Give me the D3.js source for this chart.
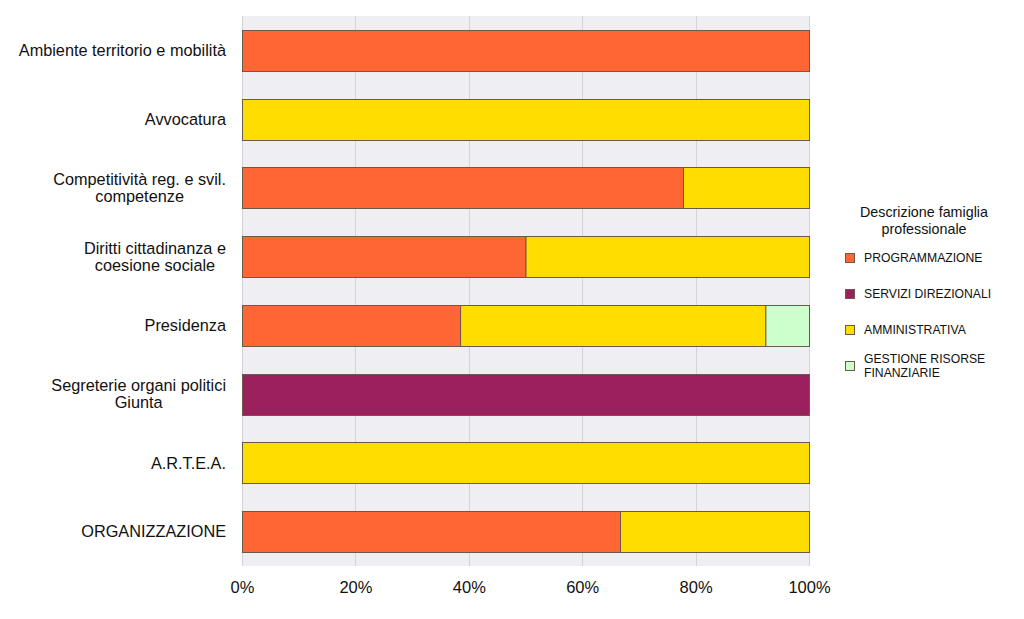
<!DOCTYPE html>
<html><head><meta charset="utf-8">
<script src="https://cdn.jsdelivr.net/npm/d3@7"></script>
<style>body{margin:0;background:#fff;} svg{display:block;font-family:"Liberation Sans",Arial,sans-serif;}</style>
</head><body>
<svg id="c" width="1024" height="619"></svg>
<script>
const categories = [
  ["Ambiente territorio e mobilità"],
  ["Avvocatura"],
  ["Competitività reg. e svil.", "competenze"],
  ["Diritti cittadinanza e", "coesione sociale"],
  ["Presidenza"],
  ["Segreterie organi politici", "Giunta"],
  ["A.R.T.E.A."],
  ["ORGANIZZAZIONE"]
];
const seriesNames = ["PROGRAMMAZIONE", "SERVIZI DIREZIONALI", "AMMINISTRATIVA", "GESTIONE RISORSE FINANZIARIE"];
const legendLabels = [["PROGRAMMAZIONE"], ["SERVIZI DIREZIONALI"], ["AMMINISTRATIVA"], ["GESTIONE RISORSE", "FINANZIARIE"]];
const colors = ["#FF6633", "#9C1F5E", "#FFDD00", "#CCFFCC"];
const programmazione = [1, 0, 7/9, 0.5, 5/13, 0, 0, 2/3];
const serviziDirezionali = [0, 0, 0, 0, 0, 1, 0, 0];
const amministrativa = [0, 1, 2/9, 0.5, 7/13, 0, 1, 1/3];
const gestioneRisorse = [0, 0, 0, 0, 1/13, 0, 0, 0];
const tickValues = [0, 0.2, 0.4, 0.6, 0.8, 1];

(function () {
const svg = d3.select("#c");
const pl = 242, pr = 809, pt = 16, pb = 566;
const x = d3.scaleLinear().domain([0, 1]).range([pl, pr]);
const y = d3.scaleBand().domain(d3.range(categories.length)).range([pt, pb]).paddingInner(0.4).paddingOuter(0.2);

svg.append("rect").attr("x", pl).attr("y", pt).attr("width", pr - pl).attr("height", pb - pt).attr("fill", "#EEEEF3");
svg.append("g").selectAll("line").data(tickValues).join("line")
  .attr("x1", d => Math.round(x(d)) + 0.5).attr("x2", d => Math.round(x(d)) + 0.5).attr("y1", pt).attr("y2", pb)
  .attr("stroke", "#D2D2D8").attr("stroke-width", 1);

const seriesData = [programmazione, serviziDirezionali, amministrativa, gestioneRisorse];
const rows = categories.map((c, i) => {
  const o = {i};
  seriesNames.forEach((s, k) => o[s] = seriesData[k][i]);
  return o;
});
const stack = d3.stack().keys(seriesNames)(rows);
stack.forEach((layer, k) => {
  svg.append("g").selectAll("rect").data(layer.filter(d => d[1] - d[0] > 0)).join("rect")
    .attr("x", d => x(d[0]) + 0.5).attr("width", d => x(d[1]) - x(d[0]))
    .attr("y", d => Math.round(y(d.data.i)) + 0.5).attr("height", Math.round(y.bandwidth()))
    .attr("fill", colors[k]).attr("stroke", "#6b5a4a").attr("stroke-width", 1);
});

const xAxis = d3.axisBottom(x).tickValues(tickValues).tickFormat(d3.format(".0%")).tickSize(0).tickPadding(15);
const ga = svg.append("g").attr("transform", `translate(0,${pb})`).call(xAxis);
ga.select(".domain").remove();
ga.selectAll("text").attr("font-size", 16.5).attr("fill", "#111").attr("font-family", "Liberation Sans, Arial, sans-serif");

const gy = svg.append("g");
categories.forEach((lines, i) => {
  const cy = y(i) + y.bandwidth() / 2;
  const lh = 17;
  const t = gy.append("text").attr("font-size", 16.3).attr("fill", "#111").attr("text-anchor", "middle");
  const spans = lines.map((l, j) => t.append("tspan").text(l).attr("y", cy + (j - (lines.length - 1) / 2) * lh).attr("dy", "0.35em"));
  const w = d3.max(spans, s => s.node().getComputedTextLength());
  const cx = 226 - w / 2;
  spans.forEach(s => s.attr("x", cx));
});

const lg = svg.append("g");
const lcx = 924;
lg.append("text").attr("x", lcx).attr("y", 217).attr("text-anchor", "middle").attr("font-size", 14.3).attr("fill", "#111").text("Descrizione famiglia");
lg.append("text").attr("x", lcx).attr("y", 234).attr("text-anchor", "middle").attr("font-size", 14.3).attr("fill", "#111").text("professionale");
const ly = [258, 294, 330, 366];
legendLabels.forEach((lines, k) => {
  lg.append("rect").attr("x", 845.5).attr("y", ly[k] - 4.5).attr("width", 9).attr("height", 9)
    .attr("fill", colors[k]).attr("stroke", "#6b5a4a").attr("stroke-width", 1);
  const t = lg.append("text").attr("font-size", 12.2).attr("fill", "#111");
  lines.forEach((l, j) => t.append("tspan").attr("x", 864).attr("y", ly[k] + (j - (lines.length - 1) / 2) * 14).attr("dy", "0.35em").text(l));
});
})();
</script>
</body></html>
